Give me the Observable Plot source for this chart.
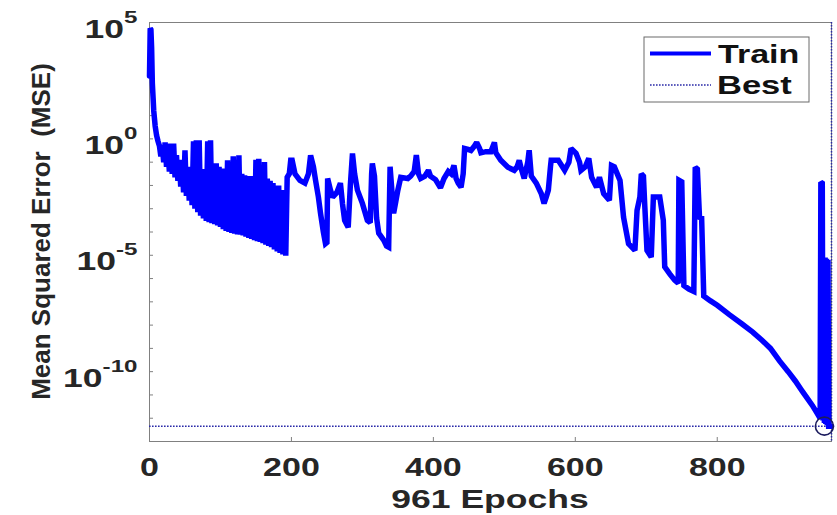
<!DOCTYPE html>
<html><head><meta charset="utf-8">
<script src="https://cdn.jsdelivr.net/npm/d3@7"></script>
<script src="https://cdn.jsdelivr.net/npm/@observablehq/plot@0.6"></script>
<style>
body{margin:0;background:#fff;}
#chart svg text{font-family:"Liberation Sans",Arial,Helvetica,sans-serif;font-weight:bold;}
</style></head><body><div id="chart"></div>
<script>
// ---- data (epoch, log10 of MSE) ----
const epochs = [
  0,1,2,3,4,5,6,8,10,12,14,
  16,18,20,22,24,26,28,30,32,34,36,38,40,42,44,46,48,50,52,54,
  56,58,60,62,64,66,68,70,72,74,76,78,80,82,84,86,88,90,92,94,
  96,98,100,102,104,106,108,110,112,114,116,118,120,122,124,126,128,130,132,134,
  136,138,140,142,144,146,148,150,152,154,156,158,160,162,164,166,168,170,172,174,
  176,178,180,182,184,186,188,190,192,194,197,199,201,
  205,212,219,224,227,231,234,238,241,245,248,250,251,255,258,264,269,272,275,280,
  283,286,289,293,300,307,311,313,314,317,320,323,330,334,337,339,341,344,347,350,
  354,364,368,373,376,379,382,388,393,396,403,410,415,421,425,429,432,435,439,442,
  444,449,453,458,461,465,467,474,481,486,488,495,505,514,518,521,524,528,533,535,
  538,545,552,556,559,562,565,566,576,585,591,594,601,606,608,614,619,623,630,634,
  640,648,651,655,663,668,675,684,687,691,693,696,698,701,707,710,719,724,726,733,
  740,745,746,750,753,760,767,769,772,775,778,781,790,800,817,835,850,863,875,888,
  900,910,920,934,940,945,946,948,949,950,951,952,953,954,955,956,957,961
];
const log10MSE = [
  2.7,4.75,4.7,3.9,2.4,1.8,1.2,0.55,0.15,-0.1,-0.3,
  -0.75,-0.3,-1.0,-0.15,-1.2,-0.5,-1.4,-0.2,-1.5,-0.2,-1.65,-0.7,-1.8,-0.9,-2.05,-1.0,-2.3,-0.49,-2.45,-1.2,
  -2.65,-1.3,-2.85,-0.1,-3.0,-0.06,-3.15,-0.06,-3.3,-1.3,-3.42,-1.4,-3.52,-0.1,-3.58,-0.06,-3.62,-1.2,-3.66,-1.05,
  -3.72,-1.2,-3.78,-1.27,-3.88,-1.4,-3.95,-0.92,-4.0,-1.3,-4.04,-0.75,-4.07,-1.3,-4.1,-0.7,-4.12,-1.5,-4.15,-1.57,
  -4.2,-1.6,-4.25,-1.6,-4.3,-1.7,-4.35,-0.9,-4.4,-0.85,-4.43,-1.6,-4.48,-0.99,-4.55,-1.7,-4.6,-1.8,-4.65,-1.9,
  -4.75,-2.0,-4.83,-2.0,-4.9,-2.2,-4.96,-2.6,-5.02,-1.65,-1.5,-0.92,-0.92,
  -1.5,-1.78,-1.9,-1.5,-0.71,-1.2,-1.78,-2.5,-3.2,-4.0,-4.5,-4.45,-1.7,-2.2,-2.5,-2.3,-1.9,-2.8,-3.5,-3.8,
  -2.0,-0.63,-1.5,-2.2,-2.77,-3.5,-3.6,-1.5,-1.05,-1.6,-3.4,-4.05,-4.35,-4.6,-4.65,-1.2,-2.0,-3.2,-2.7,-2.2,
  -1.65,-1.7,-1.6,-1.4,-0.7,-1.5,-1.7,-1.6,-1.35,-1.6,-1.75,-2.1,-1.7,-1.4,-1.5,-1.14,-1.7,-1.9,-2.08,-1.5,
  -0.41,-0.45,-0.5,-0.3,-0.15,-0.4,-0.6,-0.55,-0.55,-0.15,-0.6,-0.92,-1.22,-1.35,-1.2,-0.92,-1.3,-1.7,-1.0,-0.49,
  -1.6,-1.9,-2.35,-2.77,-2.5,-2.2,-1.2,-0.92,-0.92,-1.35,-1.0,-0.41,-0.62,-1.0,-1.35,-1.2,-0.84,-1.65,-2.08,-1.65,
  -2.35,-2.64,-1.14,-1.2,-1.78,-3.37,-4.5,-4.79,-3.07,-2.5,-1.5,-1.6,-2.94,-4.79,-5.08,-2.5,-2.5,-3.5,-5.5,-5.8,
  -6.07,-6.2,-1.78,-1.85,-6.3,-6.45,-6.55,-1.22,-1.3,-3.37,-3.4,-6.75,-6.95,-7.15,-7.55,-7.95,-8.3,-8.65,-9.0,-9.55,
  -10.0,-10.4,-10.85,-11.45,-11.75,-12.0,-1.86,-1.9,-12.1,-5.1,-12.2,-5.1,-12.25,-5.15,-12.3,-5.2,-12.34,-12.34
];
const totalEpochs = 961;
const bestEpoch = 951;
const bestLog10MSE = -12.34;
const xTicks = [0, 200, 400, 600, 800];
const yLabelExponents = [5, 0, -5, -10];
const yMinorExponents = [5,4,3,2,1,0,-1,-2,-3,-4,-5,-6,-7,-8,-9,-10,-11,-12,-13];
const seriesNames = ["Train", "Best"];
const xLabel = "961 Epochs";
const yLabel = "Mean Squared Error  (MSE)";

// ---- build ----
const train = epochs.map((e, i) => ({epoch: e, mse: Math.pow(10, log10MSE[i])}));
const bestMSE = Math.pow(10, bestLog10MSE);
const textColor = "#262626";
const bestColor = "#2a2aa8";

const plot = Plot.plot({
  width: 837, height: 515,
  marginLeft: 149, marginRight: 6, marginTop: 22, marginBottom: 74,
  style: {fontFamily: '"Liberation Sans", Arial, sans-serif', fontSize: "25px", fontWeight: "bold", color: textColor, background: "#fff", overflow: "visible"},
  x: {domain: [0, totalEpochs]},
  y: {type: "log", domain: [1e-13, 1e5]},
  marks: [
    Plot.frame({stroke: "#808080", strokeWidth: 1}),
    Plot.axisY({ticks: yMinorExponents.map(e => Math.pow(10, e)), tickSize: -4, tickFormat: () => "", stroke: "#808080", label: null}),
    Plot.axisY({ticks: yLabelExponents.map(e => Math.pow(10, e)), tickSize: 0, tickPadding: 12, tickFormat: d => String(Math.round(Math.log10(d))), label: null}),
    Plot.axisX({ticks: xTicks, tickSize: -4, tickFormat: () => "", stroke: "#808080", label: null}),
    Plot.axisX({ticks: xTicks, tickSize: 0, tickPadding: 17, label: null}),
    Plot.ruleY([bestMSE], {stroke: bestColor, strokeWidth: 1.5, strokeDasharray: "1.6,1.4"}),
    Plot.ruleX([totalEpochs], {stroke: bestColor, strokeWidth: 1.5, strokeDasharray: "1.6,1.4"}),
    Plot.line(train, {x: "epoch", y: "mse", stroke: "#0000ff", strokeWidth: 5.5, strokeLinejoin: "miter", strokeMiterlimit: 2}),
    Plot.dot([{epoch: bestEpoch, mse: bestMSE}], {x: "epoch", y: "mse", r: 9, stroke: "#1c1c5e", strokeWidth: 1.6, fill: "none"})
  ]
});
document.getElementById("chart").appendChild(plot);

const svg = d3.select(plot);
function stretch(el, k) {
  const L = el.getComputedTextLength();
  if (L > 0) {
    el.setAttribute("textLength", (L * k).toFixed(1));
    el.setAttribute("lengthAdjust", "spacingAndGlyphs");
  }
}

// y tick labels as 10 with superscript exponent
svg.selectAll('[aria-label="y-axis tick label"] text').each(function() {
  const exp = this.textContent;
  if (!exp) return;
  this.textContent = "";
  this.setAttribute("y", 0);
  const t = d3.select(this);
  t.append("tspan").attr("dy", 15).text("10");
  t.append("tspan").attr("dy", -15).attr("font-size", 17).text(exp);
  stretch(this, 1.42);
});
svg.selectAll('[aria-label="x-axis tick label"] text').each(function() {
  if (this.textContent) stretch(this, 1.36);
});

// axis titles
const xt = svg.append("text")
  .attr("x", (149 + 831) / 2).attr("y", 508)
  .attr("text-anchor", "middle").attr("fill", textColor)
  .attr("font-size", 25).text(xLabel);
stretch(xt.node(), 1.42);

svg.append("text")
  .attr("transform", `translate(50,${(22 + 441) / 2}) rotate(-90)`)
  .attr("text-anchor", "middle").attr("fill", textColor)
  .attr("font-size", 26).style("white-space", "pre").text(yLabel);

// legend
const lg = svg.append("g").attr("aria-label", "legend");
lg.append("rect").attr("x", 644).attr("y", 37).attr("width", 165).attr("height", 65)
  .attr("fill", "#fff").attr("stroke", "#6a6a6a").attr("stroke-width", 1);
lg.append("line").attr("x1", 650).attr("x2", 711).attr("y1", 53.5).attr("y2", 53.5)
  .attr("stroke", "#0000ff").attr("stroke-width", 4);
lg.append("line").attr("x1", 650).attr("x2", 711).attr("y1", 85).attr("y2", 85)
  .attr("stroke", bestColor).attr("stroke-width", 1.5).attr("stroke-dasharray", "1.6,1.4");
const lt1 = lg.append("text").attr("x", 718).attr("y", 63).attr("text-anchor", "start").attr("fill", "#111").attr("font-size", 25).text(seriesNames[0]);
const lt2 = lg.append("text").attr("x", 717).attr("y", 94).attr("text-anchor", "start").attr("fill", "#111").attr("font-size", 25).text(seriesNames[1]);
stretch(lt1.node(), 1.36);
stretch(lt2.node(), 1.38);
</script>
</body></html>
